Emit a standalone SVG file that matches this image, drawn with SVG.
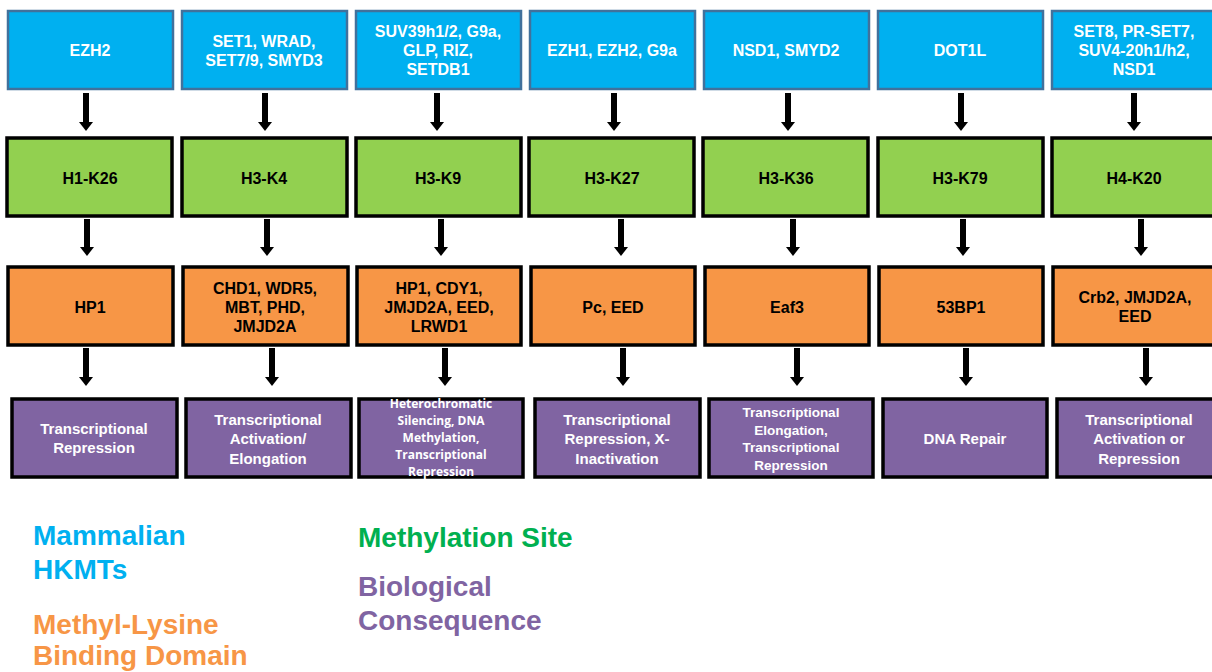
<svg xmlns="http://www.w3.org/2000/svg" width="1212" height="672" viewBox="0 0 1212 672">
<defs>
<style>
.b{fill:#00B0F0;stroke:#41719C;stroke-width:2.5}
.g{fill:#92D050;stroke:#000;stroke-width:3.5}
.o{fill:#F79646;stroke:#000;stroke-width:3.5}
.p{fill:#8064A2;stroke:#000;stroke-width:3.5}
text{font-family:"Liberation Sans",Arial,sans-serif;font-weight:bold;text-anchor:middle}
.tw{fill:#fff;font-size:16px}
.tk{fill:#000;font-size:16px}
.tp{fill:#fff;font-size:15px}
.ts{fill:#fff;font-size:13.5px}
.tos{fill:#fff;font-size:12px;font-family:"Open Sans","Liberation Sans",sans-serif}
.lg{font-size:28px;text-anchor:start}
.arr{stroke:#000;stroke-width:6;fill:none;marker-end:url(#ah)}
</style>
<marker id="ah" markerUnits="userSpaceOnUse" markerWidth="9" markerHeight="14" viewBox="0 0 9 14" refX="0" refY="7" orient="auto"><path d="M0,0 L9,7 L0,14 z" fill="#000"/></marker>
</defs>
<rect width="1212" height="672" fill="#fff"/>

<g id="hkmt">
<g id="b1"><rect class="b" x="8" y="11" width="165" height="78"/><text class="tw" x="90" y="56">EZH2</text></g>
<g id="b2"><rect class="b" x="182" y="11" width="165" height="78"/><text class="tw" x="264" y="47">SET1, WRAD,</text><text class="tw" x="264" y="66">SET7/9, SMYD3</text></g>
<g id="b3"><rect class="b" x="356" y="11" width="165" height="78"/><text class="tw" x="438" y="37">SUV39h1/2, G9a,</text><text class="tw" x="438" y="56">GLP, RIZ,</text><text class="tw" x="438" y="75">SETDB1</text></g>
<g id="b4"><rect class="b" x="530" y="11" width="165" height="78"/><text class="tw" x="612" y="56">EZH1, EZH2, G9a</text></g>
<g id="b5"><rect class="b" x="704" y="11" width="165" height="78"/><text class="tw" x="786" y="56">NSD1, SMYD2</text></g>
<g id="b6"><rect class="b" x="878" y="11" width="165" height="78"/><text class="tw" x="960" y="56">DOT1L</text></g>
<g id="b7"><rect class="b" x="1052" y="11" width="165" height="78"/><text class="tw" x="1134" y="37">SET8, PR-SET7,</text><text class="tw" x="1134" y="56">SUV4-20h1/h2,</text><text class="tw" x="1134" y="75">NSD1</text></g>
</g>

<g id="site">
<g id="g1"><rect class="g" x="7" y="138" width="165" height="78"/><text class="tk" x="90" y="184">H1-K26</text></g>
<g id="g2"><rect class="g" x="182" y="138" width="165" height="78"/><text class="tk" x="264" y="184">H3-K4</text></g>
<g id="g3"><rect class="g" x="356" y="138" width="165" height="78"/><text class="tk" x="438" y="184">H3-K9</text></g>
<g id="g4"><rect class="g" x="529" y="138" width="165" height="78"/><text class="tk" x="612" y="184">H3-K27</text></g>
<g id="g5"><rect class="g" x="703" y="138" width="165" height="78"/><text class="tk" x="786" y="184">H3-K36</text></g>
<g id="g6"><rect class="g" x="878" y="138" width="165" height="78"/><text class="tk" x="960" y="184">H3-K79</text></g>
<g id="g7"><rect class="g" x="1052" y="138" width="165" height="78"/><text class="tk" x="1134" y="184">H4-K20</text></g>
</g>

<g id="binding">
<g id="o1"><rect class="o" x="8" y="267" width="165" height="78"/><text class="tk" x="90" y="313">HP1</text></g>
<g id="o2"><rect class="o" x="183" y="267" width="165" height="78"/><text class="tk" x="265" y="294">CHD1, WDR5,</text><text class="tk" x="265" y="313">MBT, PHD,</text><text class="tk" x="265" y="332">JMJD2A</text></g>
<g id="o3"><rect class="o" x="357" y="267" width="164" height="78"/><text class="tk" x="439" y="294">HP1, CDY1,</text><text class="tk" x="439" y="313">JMJD2A, EED,</text><text class="tk" x="439" y="332">LRWD1</text></g>
<g id="o4"><rect class="o" x="531" y="267" width="164" height="78"/><text class="tk" x="613" y="313">Pc, EED</text></g>
<g id="o5"><rect class="o" x="705" y="267" width="164" height="78"/><text class="tk" x="787" y="313">Eaf3</text></g>
<g id="o6"><rect class="o" x="879" y="267" width="164" height="78"/><text class="tk" x="961" y="313">53BP1</text></g>
<g id="o7"><rect class="o" x="1053" y="267" width="165" height="78"/><text class="tk" x="1135" y="303">Crb2, JMJD2A,</text><text class="tk" x="1135" y="322">EED</text></g>
</g>

<g id="consequence">
<g id="p1"><rect class="p" x="12" y="399" width="165" height="78"/><text class="tp" x="94" y="434">Transcriptional</text><text class="tp" x="94" y="453">Repression</text></g>
<g id="p2"><rect class="p" x="186" y="399" width="165" height="78"/><text class="tp" x="268" y="425">Transcriptional</text><text class="tp" x="268" y="444">Activation/</text><text class="tp" x="268" y="464">Elongation</text></g>
<g id="p3"><rect class="p" x="359" y="399" width="164" height="78"/><text class="tos" x="441" y="408">Heterochromatic</text><text class="tos" x="441" y="425">Silencing, DNA</text><text class="tos" x="441" y="442">Methylation,</text><text class="tos" x="441" y="459">Transcriptional</text><text class="tos" x="441" y="476">Repression</text></g>
<g id="p4"><rect class="p" x="535" y="399" width="165" height="78"/><text class="tp" x="617" y="425">Transcriptional</text><text class="tp" x="617" y="444">Repression, X-</text><text class="tp" x="617" y="464">Inactivation</text></g>
<g id="p5"><rect class="p" x="709" y="399" width="164" height="78"/><text class="ts" x="791" y="417">Transcriptional</text><text class="ts" x="791" y="435">Elongation,</text><text class="ts" x="791" y="452">Transcriptional</text><text class="ts" x="791" y="470">Repression</text></g>
<g id="p6"><rect class="p" x="883" y="399" width="164" height="78"/><text class="tp" x="965" y="444">DNA Repair</text></g>
<g id="p7"><rect class="p" x="1057" y="399" width="165" height="78"/><text class="tp" x="1139" y="425">Transcriptional</text><text class="tp" x="1139" y="444">Activation or</text><text class="tp" x="1139" y="464">Repression</text></g>
</g>

<g id="connectors">
<line class="arr" x1="86" y1="93" x2="86" y2="122"/>
<line class="arr" x1="265" y1="93" x2="265" y2="122"/>
<line class="arr" x1="437" y1="93" x2="437" y2="122"/>
<line class="arr" x1="614" y1="93" x2="614" y2="122"/>
<line class="arr" x1="788" y1="93" x2="788" y2="122"/>
<line class="arr" x1="961" y1="93" x2="961" y2="122"/>
<line class="arr" x1="1134" y1="93" x2="1134" y2="122"/>
<line class="arr" x1="87" y1="219" x2="87" y2="247"/>
<line class="arr" x1="267" y1="219" x2="267" y2="247"/>
<line class="arr" x1="441" y1="219" x2="441" y2="247"/>
<line class="arr" x1="621" y1="219" x2="621" y2="247"/>
<line class="arr" x1="793" y1="219" x2="793" y2="247"/>
<line class="arr" x1="963" y1="219" x2="963" y2="247"/>
<line class="arr" x1="1141" y1="219" x2="1141" y2="247"/>
<line class="arr" x1="86" y1="348" x2="86" y2="377"/>
<line class="arr" x1="272" y1="348" x2="272" y2="377"/>
<line class="arr" x1="445" y1="348" x2="445" y2="377"/>
<line class="arr" x1="623" y1="348" x2="623" y2="377"/>
<line class="arr" x1="797" y1="348" x2="797" y2="377"/>
<line class="arr" x1="966" y1="348" x2="966" y2="377"/>
<line class="arr" x1="1146" y1="348" x2="1146" y2="377"/>
</g>

<g id="legend">
<text class="lg" x="33" y="545" fill="#00B0F0">Mammalian</text>
<text class="lg" x="33" y="579" fill="#00B0F0">HKMTs</text>
<text class="lg" x="33" y="634" fill="#F79646">Methyl-Lysine</text>
<text class="lg" x="33" y="665" fill="#F79646">Binding Domain</text>
<text class="lg" x="358" y="547" fill="#00B050">Methylation Site</text>
<text class="lg" x="358" y="596" fill="#8064A2">Biological</text>
<text class="lg" x="358" y="630" fill="#8064A2">Consequence</text>
</g>
</svg>
